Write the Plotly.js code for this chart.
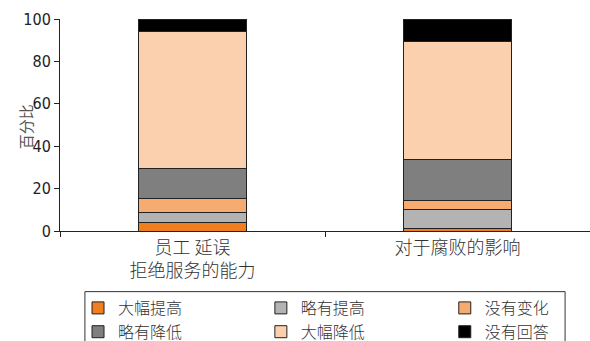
<!DOCTYPE html>
<html><head><meta charset="utf-8">
<script src="https://cdn.plot.ly/plotly-3.0.1.min.js"></script>
<style>html,body{margin:0;padding:0;background:#fff}#chart{width:590px;height:341px}</style>
</head><body><div id="chart"></div>
<script>
const categories = ["员工 延误<br>拒绝服务的能力", "对于腐败的影响"];
const seriesNames = ["大幅提高", "略有提高", "没有变化", "略有降低", "大幅降低", "没有回答"];
const colors = ["#F07D1E", "#B3B3B3", "#F6AB70", "#7F7F7F", "#FBD0AF", "#000000"];
const v_dafutigao = [3.8, 1.0];
const v_lueyoutigao = [4.8, 9.1];
const v_meiyoubianhua = [6.7, 4.4];
const v_lueyoujiangdi = [14.3, 19.1];
const v_dafujiangdi = [64.4, 55.8];
const v_meiyouhuida = [6.0, 10.6];
const values = [v_dafutigao, v_lueyoutigao, v_meiyoubianhua, v_lueyoujiangdi, v_dafujiangdi, v_meiyouhuida];
const yTitle = "百分比";
// legend column of each series (legend grid: 3 columns x 2 rows)
const legendColumn = ["legend", "legend2", "legend3", "legend", "legend2", "legend3"];

const NUM = "'DejaVu Sans Condensed', 'Liberation Sans Narrow', sans-serif";
const CJK = "'Noto Sans CJK SC', sans-serif";

const traces = seriesNames.map((n, i) => ({
  type: 'bar', name: n, x: categories, y: values[i],
  legend: legendColumn[i],
  marker: {color: colors[i], line: {color: '#222', width: 1}},
  hoverinfo: 'skip'
}));

const legendBase = (x) => ({
  orientation: 'v', traceorder: 'normal',
  x: x, xanchor: 'left', y: -0.283, yanchor: 'top',
  borderwidth: 0, bgcolor: 'rgba(0,0,0,0)',
  font: {family: CJK, size: 16, color: '#333', weight: 300},
  itemwidth: 30, tracegroupgap: 0
});

const layout = {
  width: 590, height: 341,
  margin: {l: 60, r: 0, t: 19, b: 110, pad: 0, autoexpand: false},
  barmode: 'stack', bargap: 0.59,
  paper_bgcolor: '#fff', plot_bgcolor: '#fff',
  showlegend: true,
  legend: legendBase(0.034),
  legend2: legendBase(0.379),
  legend3: legendBase(0.726),
  shapes: [{
    type: 'rect', xref: 'paper', yref: 'paper',
    x0: 0.047, x1: 0.953, y0: -0.286, y1: -0.56,
    line: {color: '#333', width: 1}, fillcolor: 'rgba(0,0,0,0)', layer: 'below'
  }],
  annotations: [{
    text: yTitle, xref: 'paper', yref: 'paper', x: -0.066, y: 0.49,
    xanchor: 'center', yanchor: 'middle', textangle: -90, showarrow: false,
    font: {family: CJK, size: 15, color: '#555'}
  }],
  xaxis: {
    type: 'category', tickson: 'boundaries', ticks: 'outside', ticklen: 5, tickcolor: '#222',
    showline: true, linecolor: '#222', linewidth: 1, showgrid: false, zeroline: false,
    tickfont: {family: CJK, size: 18, color: '#333', weight: 300}, range: [-0.5, 1.5], fixedrange: true
  },
  yaxis: {
    range: [0, 100], dtick: 20, ticks: 'outside', ticklen: 5, tickcolor: '#222',
    showline: true, linecolor: '#222', linewidth: 1, showgrid: false, zeroline: false,
    tickfont: {family: NUM, size: 16, color: '#222'}
  }
};
Plotly.newPlot('chart', traces, layout, {displayModeBar: false, staticPlot: true});
</script></body></html>
